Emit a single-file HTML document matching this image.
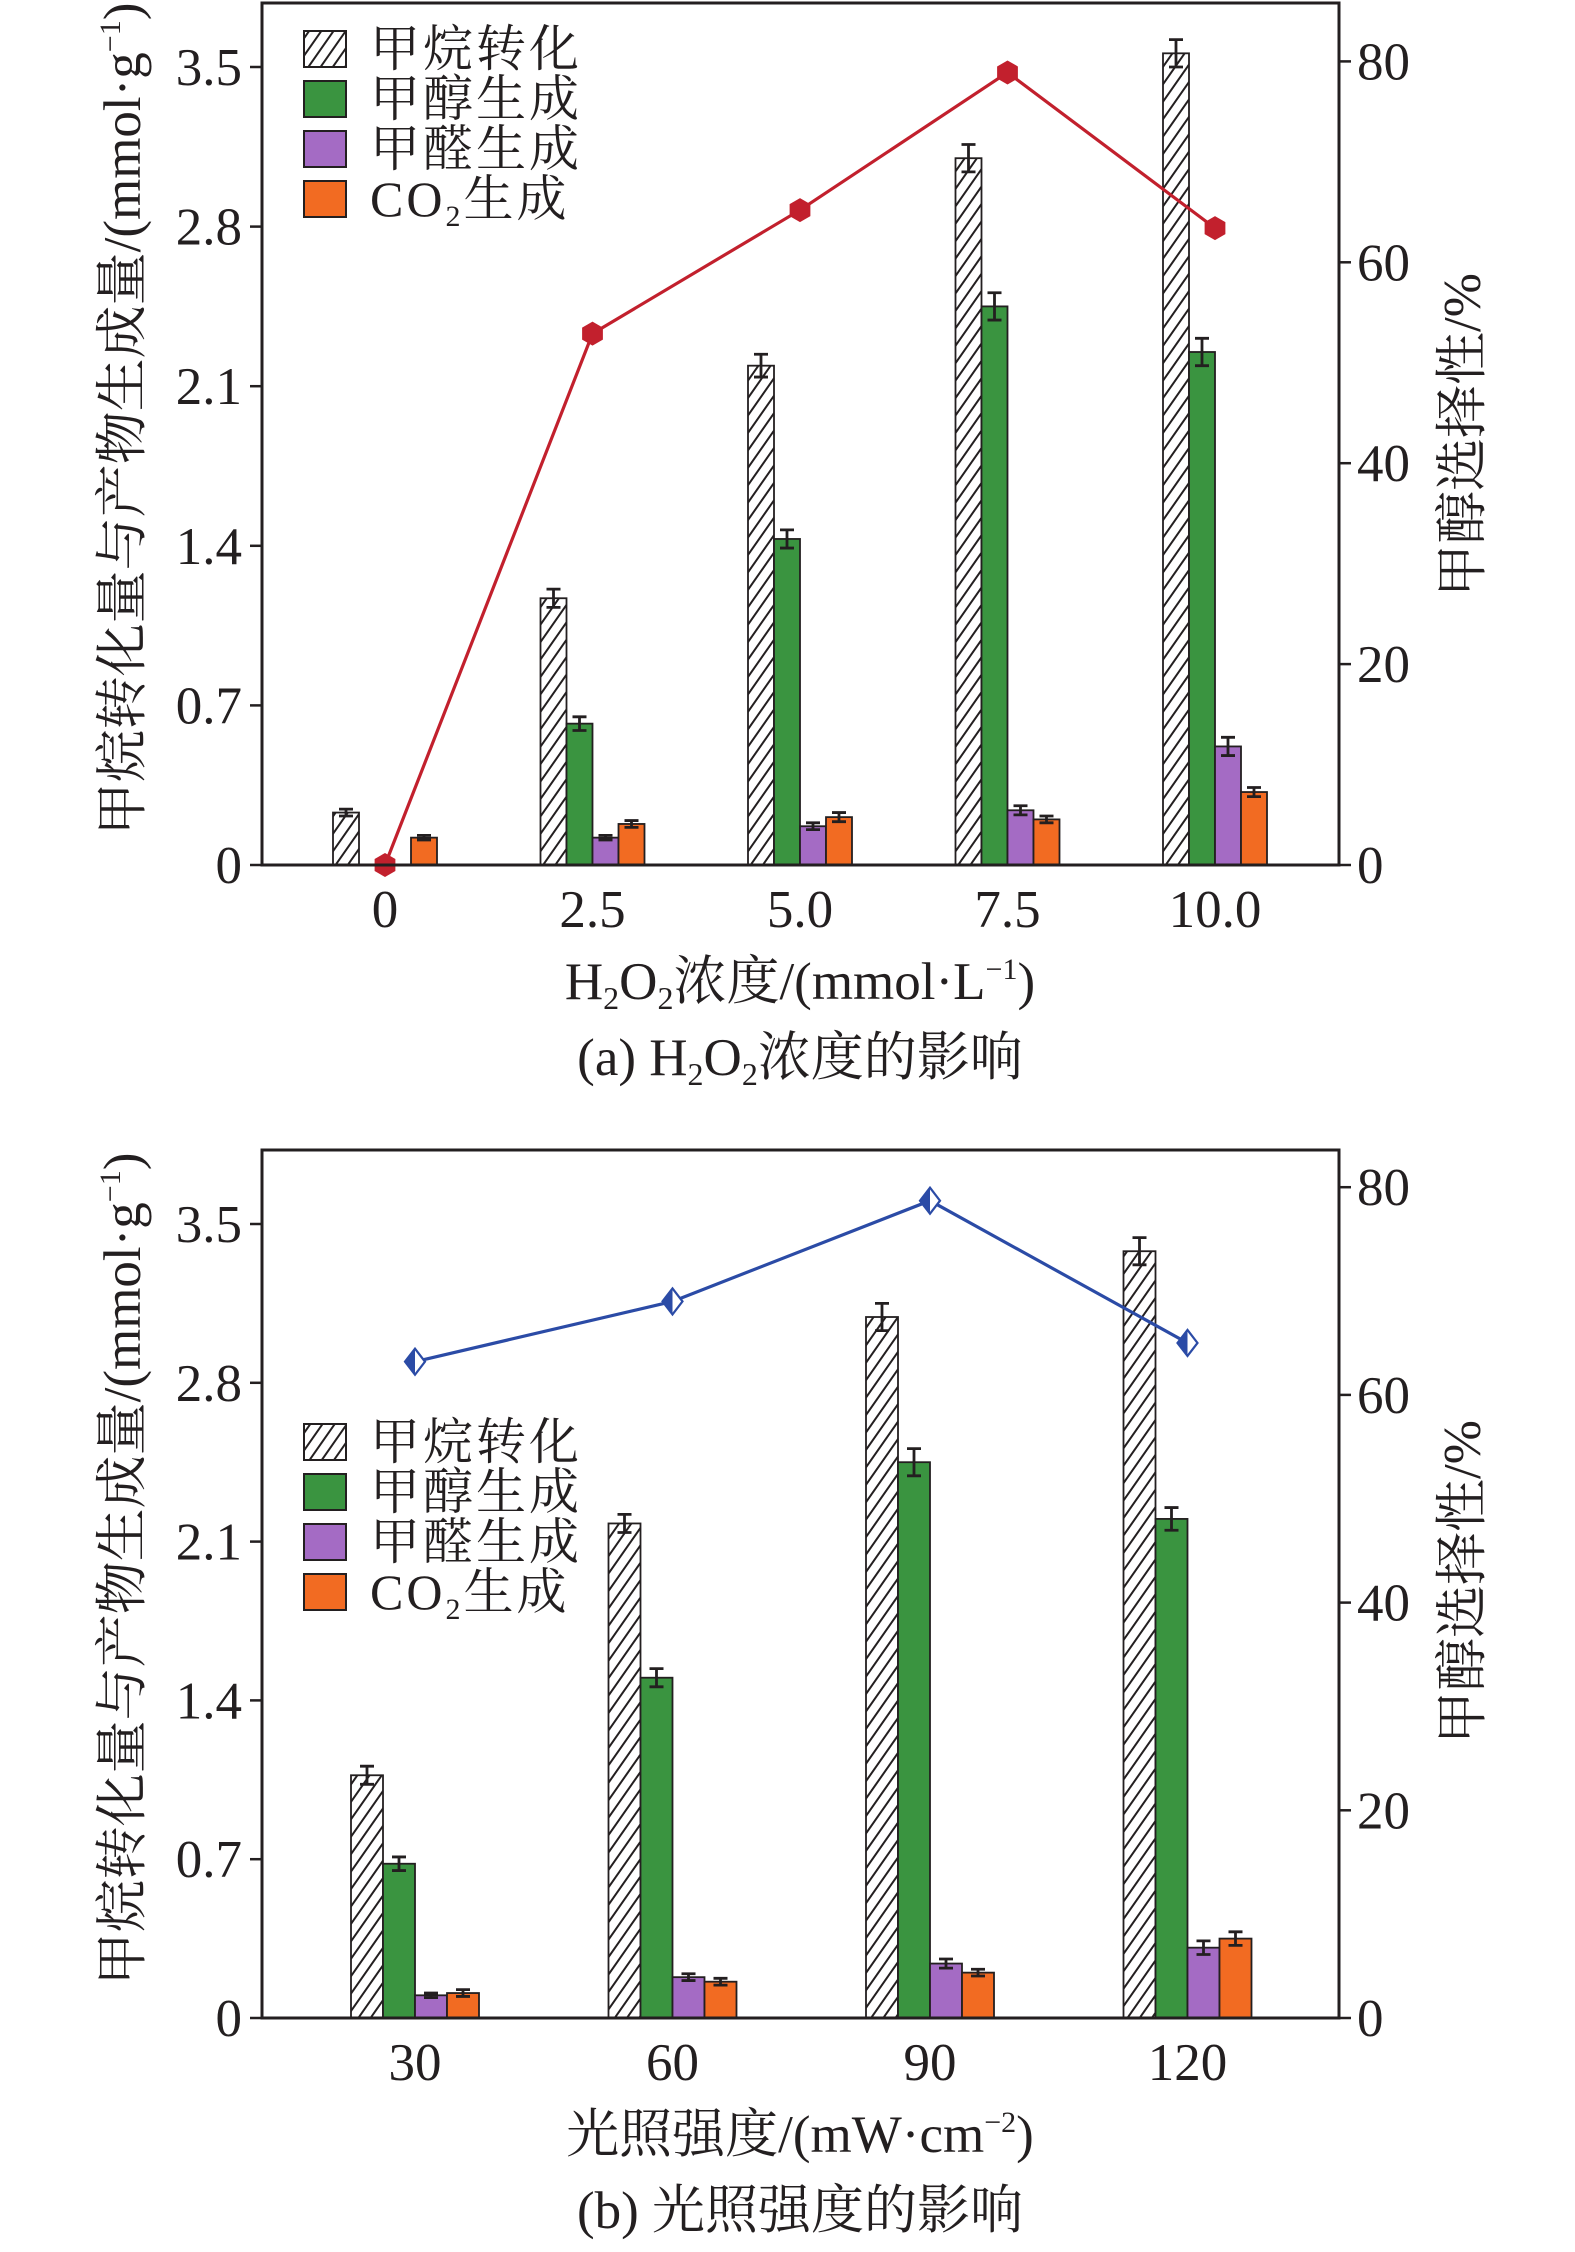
<!DOCTYPE html>
<html><head><meta charset="utf-8">
<style>
html,body{margin:0;padding:0;background:#fff;}
svg{display:block;}
text{font-family:"Liberation Serif","Noto Serif CJK SC","Noto Sans CJK SC",serif;fill:#231f20;}
</style></head>
<body>
<svg id="fig" width="1575" height="2252" viewBox="0 0 1575 2252" xmlns="http://www.w3.org/2000/svg">
<defs>
<pattern id="hatch" patternUnits="userSpaceOnUse" width="10" height="10" patternTransform="rotate(35)">
<rect width="10" height="10" fill="#fff"/>
<line x1="0" y1="0" x2="0" y2="10" stroke="#231f20" stroke-width="4"/>
</pattern>
</defs>
</svg>
<script>
// ---- Chart (a) data ----
const catsA = ["0","2.5","5.0","7.5","10.0"];
const ch4A = [0.23,1.17,2.19,3.10,3.56];
const ch4ErrA = [0.015,0.04,0.05,0.06,0.06];
const meohA = [0,0.62,1.43,2.45,2.25];
const meohErrA = [0,0.03,0.04,0.06,0.06];
const hchoA = [0,0.12,0.17,0.24,0.52];
const hchoErrA = [0,0.01,0.015,0.02,0.04];
const co2A = [0.12,0.18,0.21,0.20,0.32];
const co2ErrA = [0.01,0.015,0.02,0.015,0.02];
const selA = [0,52.9,65.2,78.9,63.4];
// ---- Chart (b) data ----
const catsB = ["30","60","90","120"];
const ch4B = [1.07,2.18,3.09,3.38];
const ch4ErrB = [0.04,0.04,0.06,0.06];
const meohB = [0.68,1.50,2.45,2.20];
const meohErrB = [0.03,0.04,0.06,0.05];
const hchoB = [0.10,0.18,0.24,0.31];
const hchoErrB = [0.01,0.015,0.02,0.03];
const co2B = [0.11,0.16,0.20,0.35];
const co2ErrB = [0.015,0.015,0.015,0.03];
const selB = [63.2,69.0,78.7,65.0];
const leftTicks = [0,0.7,1.4,2.1,2.8,3.5];
const leftTickLabels = ["0","0.7","1.4","2.1","2.8","3.5"];
const rightTicks = [0,20,40,60,80];
const legendLabels = ["甲烷转化","甲醇生成","甲醛生成","CO2生成"];

const NS="http://www.w3.org/2000/svg";
const svg=document.getElementById('fig');
function mk(tag,attrs,parent){const e=document.createElementNS(NS,tag);for(const k in attrs)e.setAttribute(k,attrs[k]);(parent||svg).appendChild(e);return e;}

function drawChart(o){
  const g=mk('g',{});
  
  
  const L=262,R=1339,T=o.top,B=o.bottom;
  const yL=v=>B-v/0.7*o.pxPer07;
  const yR=v=>B-v/20*o.pxPer20;
  const xC=i=>o.x0+i*o.dx;
  const series=[[o.ch4,o.ch4Err,'url(#hatch)','bar-methane'],[o.meoh,o.meohErr,'#3a9440','bar-methanol'],[o.hcho,o.hchoErr,'#a46bc4','bar-formaldehyde'],[o.co2,o.co2Err,'#f26b22','bar-co2']];
  series.forEach((s,si)=>{
    s[0].forEach((v,i)=>{
      if(v<=0) return;
      const x=xC(i)-2*o.bw+si*o.bw;
      const r=mk('rect',{x:x,y:yL(v),width:o.bw,height:B-yL(v),fill:s[2],stroke:'#231f20','stroke-width':1.8},g);
      
      
      const e=s[1][i];
      if(e>0){
        const cx=x+o.bw/2;
        const eb=mk('path',{d:`M${cx},${yL(v+e)}V${yL(v-e)}M${cx-7},${yL(v+e)}H${cx+7}M${cx-7},${yL(v-e)}H${cx+7}`,stroke:'#231f20','stroke-width':2.8,fill:'none'},g);
        
        
      }
    });
  });
  const pts=o.sel.map((v,i)=>xC(i)+','+yR(v)).join(' ');
  const pl=mk('polyline',{points:pts,fill:'none',stroke:o.lineColor,'stroke-width':3.2},g);
  
  
  o.sel.forEach((v,i)=>{
    const cx=xC(i),cy=yR(v);
    if(o.marker==='hex'){
      const p=[];for(let k=0;k<6;k++){const a=Math.PI/6+k*Math.PI/3;p.push((cx+12*Math.cos(a))+','+(cy+12*Math.sin(a)));}
      const m=mk('polygon',{points:p.join(' '),fill:'#c2202d'},g);
      
      
    } else {
      const m=mk('polygon',{points:`${cx},${cy-13} ${cx+10},${cy} ${cx},${cy+13} ${cx-10},${cy}`,fill:'#fff',stroke:o.lineColor,'stroke-width':2.2},g);
      
      
      mk('polygon',{points:`${cx},${cy-13} ${cx},${cy+13} ${cx-10},${cy}`,fill:o.lineColor},g);
    }
  });
  const f=mk('rect',{x:L,y:T,width:R-L,height:B-T,fill:'none',stroke:'#231f20','stroke-width':3},g);
  
  
  leftTicks.forEach((v,i)=>{
    const y=yL(v);
    mk('line',{x1:L-12,x2:L,y1:y,y2:y,stroke:'#231f20','stroke-width':2.5},g);
    const t=mk('text',{x:L-20,y:y+18,'text-anchor':'end','font-size':53},g);
    t.textContent=leftTickLabels[i];
    
    
  });
  rightTicks.forEach(v=>{
    const y=yR(v);
    mk('line',{x1:R,x2:R+12,y1:y,y2:y,stroke:'#231f20','stroke-width':2.5},g);
    const t=mk('text',{x:R+18,y:y+18,'font-size':53},g);
    t.textContent=String(v);
    
    
  });
  o.cats.forEach((c,i)=>{
    const t=mk('text',{x:xC(i),y:B+62,'text-anchor':'middle','font-size':53},g);
    t.textContent=c;
    
    
  });
  const fills=['url(#hatch)','#3a9440','#a46bc4','#f26b22'];
  legendLabels.forEach((lab,i)=>{
    const y=o.legY+i*50;
    const r=mk('rect',{x:304,y:y,width:42,height:36,fill:fills[i],stroke:'#231f20','stroke-width':2},g);
    
    
    const t=mk('text',{x:370,y:y+35,'font-size':50,'letter-spacing':3},g);
    if(i===3){t.innerHTML='CO<tspan font-size="30" dy="10">2</tspan><tspan dy="-10">生成</tspan>';}
    else t.textContent=lab;
    
    
  });
  const yt=mk('text',{transform:`translate(140,${(T+B)/2-15}) rotate(-90)`,'text-anchor':'middle','font-size':53},g);
  yt.innerHTML='甲烷转化量与产物生成量/(mmol·g<tspan font-size="30" dy="-20">−1</tspan><tspan dy="20">)</tspan>';
  
  
  const rt=mk('text',{transform:`translate(1480,${T+o.rtOff}) rotate(-90)`,'text-anchor':'middle','font-size':53},g);
  rt.textContent='甲醇选择性/%';
  
  
  const xt=mk('text',{x:800,y:B+134,'text-anchor':'middle','font-size':53},g);
  xt.innerHTML=o.xtitle;
  
  
  const cap=mk('text',{x:800,y:B+210,'text-anchor':'middle','font-size':53},g);
  cap.innerHTML=o.caption;
  
  
}

drawChart({name:'chart-a-h2o2',top:3,bottom:865,pxPer07:159.6,pxPer20:200.9,x0:385,dx:207.5,bw:26,
  cats:catsA,ch4:ch4A,ch4Err:ch4ErrA,meoh:meohA,meohErr:meohErrA,hcho:hchoA,hchoErr:hchoErrA,co2:co2A,co2Err:co2ErrA,sel:selA,
  lineColor:'#c2202d',marker:'hex',legY:31,rtOff:432,
  xtitle:'H<tspan font-size="32" dy="10">2</tspan><tspan dy="-10">O</tspan><tspan font-size="32" dy="10">2</tspan><tspan dy="-10">浓度/(mmol·L</tspan><tspan font-size="30" dy="-20">−1</tspan><tspan dy="20">)</tspan>',
  caption:'(a) H<tspan font-size="32" dy="10">2</tspan><tspan dy="-10">O</tspan><tspan font-size="32" dy="10">2</tspan><tspan dy="-10">浓度的影响</tspan>'});
drawChart({name:'chart-b-light',top:1150,bottom:2018,pxPer07:158.8,pxPer20:207.7,x0:415,dx:257.5,bw:32,
  cats:catsB,ch4:ch4B,ch4Err:ch4ErrB,meoh:meohB,meohErr:meohErrB,hcho:hchoB,hchoErr:hchoErrB,co2:co2B,co2Err:co2ErrB,sel:selB,
  lineColor:'#2b4ba6',marker:'diamond',legY:1424,rtOff:432,
  xtitle:'光照强度/(mW·cm<tspan font-size="30" dy="-20">−2</tspan><tspan dy="20">)</tspan>',
  caption:'(b) 光照强度的影响'});
</script>
</body></html>
